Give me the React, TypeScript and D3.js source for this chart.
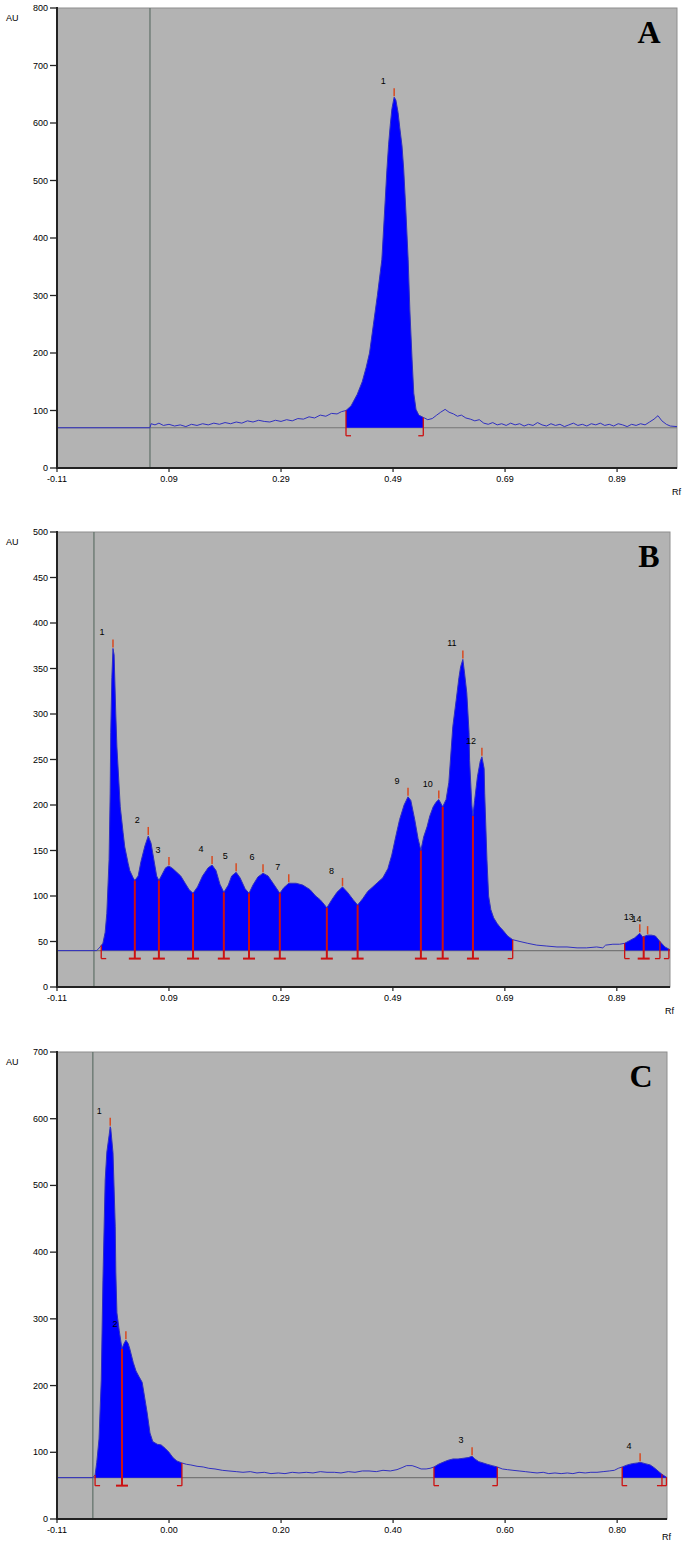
import React from 'react';
import * as d3 from 'd3';

type Pt = [number, number];

// Rf tick positions are shared by the three densitograms, only the printed text differs
const rfTicks = [-0.11, 0.09, 0.29, 0.49, 0.69, 0.89];
const rfLabelsAB = ['-0.11', '0.09', '0.29', '0.49', '0.69', '0.89'];
const rfLabelsC = ['-0.11', '0.00', '0.20', '0.40', '0.60', '0.80'];

const auTicksA = [0, 100, 200, 300, 400, 500, 600, 700, 800];
const auTicksB = [0, 50, 100, 150, 200, 250, 300, 350, 400, 450, 500];
const auTicksC = [0, 100, 200, 300, 400, 500, 600, 700];

// ---- track A ----
const traceA: Pt[] = [
  [-0.11, 70], [0.056, 70], [0.058, 77], [0.065, 75], [0.072, 78], [0.08, 74], [0.09, 76], [0.1, 73],
  [0.11, 75], [0.12, 72], [0.13, 76], [0.14, 74], [0.15, 77], [0.16, 75], [0.17, 78], [0.18, 76],
  [0.19, 79], [0.2, 77], [0.21, 80], [0.22, 78], [0.23, 82], [0.24, 80], [0.25, 83], [0.26, 81],
  [0.27, 80], [0.28, 83], [0.29, 81], [0.3, 84], [0.31, 82], [0.32, 86], [0.33, 85], [0.34, 89],
  [0.35, 87], [0.36, 92], [0.37, 90], [0.38, 95], [0.39, 94], [0.398, 98],
  [0.406, 100], [0.415, 108], [0.426, 128], [0.435, 150], [0.442, 175], [0.448, 200], [0.455, 250],
  [0.462, 300], [0.47, 362], [0.476, 465], [0.479, 518], [0.482, 562], [0.485, 596], [0.488, 625],
  [0.492, 645], [0.495, 640], [0.499, 618], [0.502, 592], [0.506, 560], [0.509, 520], [0.513, 445],
  [0.517, 362], [0.52, 275], [0.524, 188], [0.527, 130], [0.531, 102], [0.536, 92], [0.544, 88],
  [0.552, 84], [0.56, 86], [0.568, 92], [0.575, 97], [0.583, 102], [0.59, 97], [0.598, 94], [0.605, 90],
  [0.612, 92], [0.62, 87], [0.628, 85], [0.636, 82], [0.644, 84], [0.652, 78], [0.66, 76], [0.668, 79],
  [0.676, 75], [0.684, 77], [0.692, 74], [0.7, 78], [0.708, 75], [0.716, 77], [0.724, 73], [0.732, 76],
  [0.74, 74], [0.748, 79], [0.756, 75], [0.764, 73], [0.772, 77], [0.78, 74], [0.788, 76], [0.796, 72],
  [0.804, 75], [0.812, 78], [0.82, 74], [0.828, 76], [0.836, 73], [0.844, 77], [0.852, 75], [0.86, 78],
  [0.868, 74], [0.876, 76], [0.884, 73], [0.892, 77], [0.9, 75], [0.908, 72], [0.916, 76], [0.924, 74],
  [0.932, 77], [0.94, 75], [0.948, 80], [0.956, 85], [0.963, 91], [0.97, 82], [0.978, 76], [0.985, 73],
  [0.997, 72],
];
const peaksA: [string, number, number][] = [['1', 0.492, 645]];
const bordersA: [number, string][] = [[0.406, 'start'], [0.544, 'end']];
const fillsA: Pt[] = [[0.406, 0.544]];

// ---- track B ----
const traceB: Pt[] = [
  [-0.11, 40], [-0.039, 40], [-0.033, 44], [-0.028, 48], [-0.024, 60], [-0.021, 81], [-0.017, 140],
  [-0.015, 213], [-0.014, 280], [-0.012, 340], [-0.01, 372], [-0.008, 365], [-0.005, 300], [-0.003, 264],
  [0.003, 198], [0.008, 170], [0.011, 154], [0.017, 136], [0.02, 128], [0.026, 120], [0.029, 117],
  [0.035, 122], [0.04, 138], [0.047, 155], [0.053, 166], [0.058, 158], [0.063, 140], [0.068, 122],
  [0.072, 117], [0.078, 124], [0.084, 131], [0.09, 133], [0.097, 130], [0.104, 126], [0.111, 122],
  [0.119, 114], [0.126, 107], [0.133, 103], [0.141, 110], [0.15, 122], [0.16, 131], [0.167, 134],
  [0.174, 128], [0.181, 113], [0.188, 104], [0.196, 112], [0.202, 122], [0.21, 126], [0.217, 120],
  [0.226, 108], [0.233, 103], [0.24, 112], [0.249, 121], [0.258, 125], [0.267, 122], [0.276, 114],
  [0.288, 103], [0.295, 109], [0.304, 114], [0.317, 114], [0.329, 112], [0.342, 107], [0.352, 100],
  [0.36, 96], [0.367, 91], [0.372, 87], [0.381, 96], [0.39, 104], [0.4, 110], [0.409, 104], [0.419, 96],
  [0.427, 90], [0.436, 97], [0.445, 105], [0.454, 110], [0.463, 115], [0.472, 120], [0.481, 130],
  [0.488, 145], [0.495, 165], [0.502, 184], [0.51, 200], [0.517, 209], [0.522, 205], [0.529, 184],
  [0.535, 163], [0.54, 150], [0.545, 165], [0.551, 176], [0.556, 188], [0.562, 198], [0.567, 203],
  [0.572, 206], [0.579, 198], [0.585, 206], [0.59, 225], [0.597, 286], [0.603, 315], [0.608, 340],
  [0.611, 352], [0.615, 360], [0.618, 345], [0.622, 323], [0.626, 280], [0.627, 249], [0.631, 200],
  [0.633, 188], [0.636, 205], [0.641, 231], [0.646, 248], [0.649, 253], [0.653, 240], [0.654, 213],
  [0.658, 140], [0.661, 100], [0.665, 85], [0.67, 76], [0.676, 70], [0.681, 66], [0.687, 62],
  [0.695, 56], [0.704, 52], [0.717, 50], [0.731, 48], [0.747, 46], [0.765, 45], [0.783, 44],
  [0.801, 44], [0.819, 43], [0.836, 43], [0.854, 44], [0.865, 43], [0.87, 46], [0.883, 47],
  [0.895, 47], [0.904, 48], [0.913, 51], [0.922, 54], [0.931, 59], [0.936, 55], [0.945, 57],
  [0.952, 57], [0.959, 56], [0.967, 50], [0.976, 44], [0.985, 41],
];
const peaksB: [string, number, number][] = [
  ['1', -0.01, 372], ['2', 0.053, 166], ['3', 0.09, 133], ['4', 0.167, 134], ['5', 0.21, 126],
  ['6', 0.258, 125], ['7', 0.304, 114], ['8', 0.4, 110], ['9', 0.517, 209], ['10', 0.572, 206],
  ['11', 0.615, 360], ['12', 0.649, 253], ['13', 0.931, 59], ['14', 0.945, 57],
];
const bordersB: [number, string][] = [
  [-0.031, 'start'], [0.029, 'split'], [0.072, 'split'], [0.133, 'split'], [0.188, 'split'],
  [0.233, 'split'], [0.288, 'split'], [0.372, 'split'], [0.427, 'split'], [0.54, 'split'],
  [0.579, 'split'], [0.633, 'split'], [0.704, 'end'], [0.904, 'start'], [0.938, 'split'],
  [0.967, 'end'], [0.983, 'end'],
];
const fillsB: Pt[] = [[-0.031, 0.704], [0.904, 0.985]];

// ---- track C ----
const traceC: Pt[] = [
  [-0.11, 62], [-0.046, 62], [-0.042, 66], [-0.039, 85], [-0.035, 120], [-0.031, 208], [-0.028, 358],
  [-0.024, 508], [-0.021, 550], [-0.017, 575], [-0.015, 588], [-0.014, 585], [-0.01, 549], [-0.006, 438],
  [-0.005, 370], [-0.003, 309], [0.001, 283], [0.006, 255], [0.009, 262], [0.013, 268], [0.017, 263],
  [0.02, 255], [0.026, 235], [0.031, 222], [0.036, 214], [0.042, 205], [0.045, 190], [0.051, 159],
  [0.056, 129], [0.061, 116], [0.069, 112], [0.076, 111], [0.083, 106], [0.09, 100], [0.097, 92],
  [0.104, 87], [0.113, 84], [0.121, 82], [0.129, 81], [0.14, 79], [0.151, 78], [0.161, 76],
  [0.172, 75], [0.185, 73], [0.197, 72], [0.21, 71], [0.222, 70], [0.235, 71], [0.247, 69],
  [0.26, 70], [0.272, 68], [0.285, 69], [0.297, 68], [0.31, 70], [0.322, 69], [0.335, 70],
  [0.347, 69], [0.36, 71], [0.372, 70], [0.385, 70], [0.397, 69], [0.41, 71], [0.422, 70],
  [0.435, 72], [0.447, 72], [0.46, 71], [0.472, 73], [0.485, 72], [0.497, 74], [0.506, 77],
  [0.514, 80], [0.524, 80], [0.531, 78], [0.54, 75], [0.549, 75], [0.556, 76], [0.563, 78],
  [0.571, 82], [0.579, 85], [0.588, 88], [0.597, 90], [0.606, 90], [0.615, 91], [0.624, 92],
  [0.631, 94], [0.636, 90], [0.643, 86], [0.651, 84], [0.658, 82], [0.667, 80], [0.676, 78],
  [0.685, 75], [0.694, 74], [0.704, 73], [0.715, 72], [0.726, 71], [0.736, 70], [0.747, 69],
  [0.758, 70], [0.768, 68], [0.779, 69], [0.79, 68], [0.801, 69], [0.811, 68], [0.822, 70],
  [0.833, 69], [0.843, 70], [0.854, 70], [0.865, 71], [0.876, 72], [0.885, 73], [0.892, 76],
  [0.899, 78], [0.908, 81], [0.917, 83], [0.926, 84], [0.931, 85], [0.94, 83], [0.949, 81],
  [0.956, 77], [0.963, 72], [0.97, 67], [0.979, 62],
];
const peaksC: [string, number, number][] = [
  ['1', -0.015, 588], ['2', 0.013, 268], ['3', 0.631, 94], ['4', 0.931, 85],
];
const bordersC: [number, string][] = [
  [-0.042, 'start'], [0.006, 'split'], [0.113, 'end'], [0.563, 'start'], [0.676, 'end'],
  [0.899, 'start'], [0.97, 'end'], [0.978, 'end'],
];
const fillsC: Pt[] = [[-0.042, 0.113], [0.563, 0.676], [0.899, 0.979]];

const panels = [
  { letter: 'A', top: 8, bottom: 468, right: 677, rfMax: 0.997, auMax: 800, base: 70, startRf: 0.056,
    trace: traceA, peaks: peaksA, borders: bordersA, fills: fillsA, auTicks: auTicksA, rfLabels: rfLabelsAB, letterX: 649 },
  { letter: 'B', top: 532, bottom: 987, right: 670, rfMax: 0.985, auMax: 500, base: 40, startRf: -0.044,
    trace: traceB, peaks: peaksB, borders: bordersB, fills: fillsB, auTicks: auTicksB, rfLabels: rfLabelsAB, letterX: 649 },
  { letter: 'C', top: 1052, bottom: 1519, right: 667, rfMax: 0.979, auMax: 700, base: 62, startRf: -0.046,
    trace: traceC, peaks: peaksC, borders: bordersC, fills: fillsC, auTicks: auTicksC, rfLabels: rfLabelsC, letterX: 641 },
];

const LEFT = 57;
const font = '"Liberation Sans", Arial, sans-serif';

function valueAt(trace: Pt[], rf: number) {
  const i = d3.bisector((d: Pt) => d[0]).left(trace, rf);
  if (i <= 0) return trace[0][1];
  if (i >= trace.length) return trace[trace.length - 1][1];
  const a = trace[i - 1], b = trace[i];
  return a[1] + (b[1] - a[1]) * (rf - a[0]) / (b[0] - a[0]);
}

const Densitogram = ({ p }: { p: typeof panels[number] }) => {
  const x = d3.scaleLinear().domain([-0.11, p.rfMax]).range([LEFT, p.right]);
  const y = d3.scaleLinear().domain([0, p.auMax]).range([p.bottom, p.top]);
  const yb = y(p.base);

  const line = d3.line<Pt>().x(d => x(d[0])).y(d => y(d[1]));
  const area = d3.area<Pt>().x(d => x(d[0])).y0(yb).y1(d => y(d[1]));

  const fillPaths = p.fills.map(([s, e]) => {
    const pts: Pt[] = [[s, valueAt(p.trace, s)], ...p.trace.filter(d => d[0] > s && d[0] < e), [e, valueAt(p.trace, e)]];
    return area(pts) || '';
  });

  return (
    <g>
      <rect x={LEFT} y={p.top} width={p.right - LEFT} height={p.bottom - p.top} fill="#b3b3b3" stroke="#8e8e8e" strokeWidth={1} />
      <line x1={x(p.startRf)} x2={x(p.startRf)} y1={p.top} y2={p.bottom} stroke="#607068" strokeWidth={1.2} />
      <line x1={LEFT} x2={p.right} y1={yb} y2={yb} stroke="#767676" strokeWidth={1.2} />
      {fillPaths.map((d, i) => <path key={i} d={d} fill="#0000ff" />)}
      <path d={line(p.trace) || ''} fill="none" stroke="#3030c0" strokeWidth={1} />
      {p.borders.map(([rf, kind], i) => {
        const xx = x(rf);
        const yt = y(valueAt(p.trace, rf));
        const yf = yb + 8;
        const x1 = kind === 'end' ? xx - 5 : kind === 'start' ? xx : xx - 6;
        const x2 = kind === 'end' ? xx : kind === 'start' ? xx + 5 : xx + 6;
        return (
          <g key={i} stroke="#cc1111" strokeWidth={kind === 'split' ? 2 : 1.3}>
            <line x1={xx} x2={xx} y1={yt} y2={yf} />
            <line x1={x1} x2={x2} y1={yf} y2={yf} />
          </g>
        );
      })}
      {p.peaks.map(([id, rf, au]) => (
        <g key={id}>
          <line x1={x(rf)} x2={x(rf)} y1={y(au) - 1} y2={y(au) - 9} stroke="#d84a20" strokeWidth={1.5} />
          <text x={x(rf) - 11} y={y(au) - 13} fontSize={9} fontFamily={font} textAnchor="middle" fill="#000">{id}</text>
        </g>
      ))}
      <line x1={LEFT} x2={LEFT} y1={p.top - 1} y2={p.bottom + 1} stroke="#222" strokeWidth={2} />
      <line x1={LEFT} x2={p.right} y1={p.bottom} y2={p.bottom} stroke="#222" strokeWidth={2} />
      {p.auTicks.map(t => (
        <g key={t}>
          <line x1={LEFT - 7} x2={LEFT} y1={y(t)} y2={y(t)} stroke="#222" strokeWidth={1.3} />
          <text x={LEFT - 9} y={y(t) + 3} fontSize={9} fontFamily={font} textAnchor="end" fill="#000">{t}</text>
        </g>
      ))}
      {rfTicks.map((t, i) => (
        <g key={t}>
          <line x1={x(t)} x2={x(t)} y1={p.bottom} y2={p.bottom + 4} stroke="#222" strokeWidth={1.2} />
          <text x={x(t)} y={p.bottom + 14} fontSize={9} fontFamily={font} textAnchor="middle" fill="#000">{p.rfLabels[i]}</text>
        </g>
      ))}
      <text x={6} y={p.top + 13} fontSize={9} fontFamily={font} fill="#000">AU</text>
      <text x={p.right - 5} y={Math.min(p.bottom + 27, 1540)} fontSize={9} fontFamily={font} fill="#000">Rf</text>
      <text x={p.letterX} y={p.top + 35} fontSize={32} fontWeight="bold" fontFamily='"Liberation Serif", "Times New Roman", serif' textAnchor="middle" fill="#000">{p.letter}</text>
    </g>
  );
};

export default function App() {
  return (
    <svg width={684} height={1543} style={{ position: 'absolute', left: 0, top: 0, background: '#fff' }}>
      {panels.map(p => <Densitogram key={p.letter} p={p} />)}
    </svg>
  );
}
